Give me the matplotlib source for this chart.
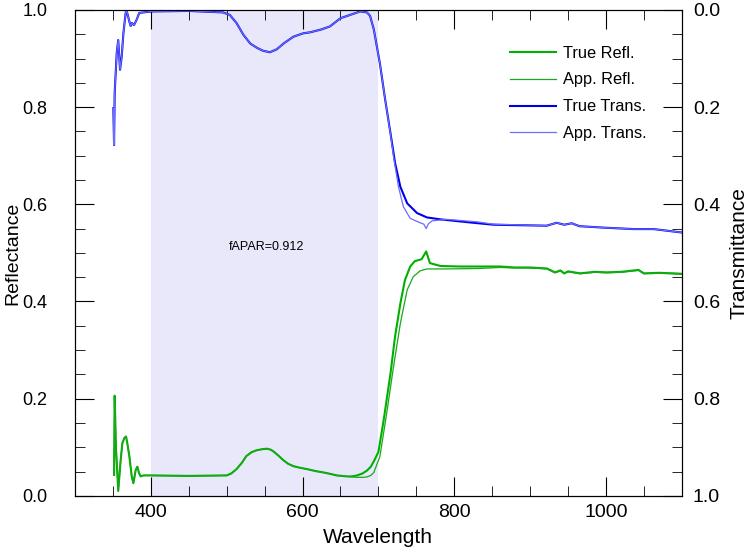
import matplotlib
matplotlib.use('Agg')
import matplotlib.pyplot as plt
import numpy as np
from matplotlib.ticker import MultipleLocator

plt.rcParams['font.family'] = ['Liberation Sans', 'DejaVu Sans']

# ---------------------------------------------------------------- #
#              values               #
# ---------------------------------------------------------------- #

# true reflectance
wl_refl = [351.5, 352.3, 354, 357, 360, 362.4, 365, 367.3, 369, 371.7, 374.8, 377,
           380, 382.2, 384.4, 386.6, 390, 400, 450, 500, 506, 513, 520, 526, 533, 540,
           547, 553, 558, 562, 568, 575, 581, 588, 596, 606, 617, 628, 637, 645, 652,
           658, 665, 672, 679, 685, 690, 694, 700, 707, 716, 722, 729,
           735, 742, 748, 757, 763, 768, 782, 808, 835, 860, 880, 900, 922, 933,
           940, 945, 950, 966, 985, 1001, 1020, 1043, 1050, 1070, 1089, 1100]
refl_true = [0.043, 0.206, 0.10, 0.010, 0.07, 0.108, 0.119, 0.122, 0.108, 0.081, 0.040, 0.026,
             0.053, 0.060, 0.047, 0.040, 0.042, 0.042, 0.041, 0.042, 0.046, 0.055, 0.068, 0.082, 0.090, 0.094,
             0.096, 0.097, 0.095, 0.091, 0.083, 0.073, 0.066, 0.061, 0.058, 0.055, 0.051, 0.048, 0.045, 0.042, 0.041,
             0.040, 0.040, 0.042, 0.046, 0.052, 0.060, 0.071, 0.090, 0.156, 0.252, 0.328, 0.396,
             0.444, 0.472, 0.483, 0.487, 0.503, 0.479, 0.473, 0.472, 0.472, 0.472, 0.470, 0.470, 0.468, 0.460,
             0.464, 0.458, 0.462, 0.458, 0.461, 0.460, 0.461, 0.465, 0.458, 0.459, 0.458, 0.457]

# apparent reflectance (differs from true only around the red edge)
wl_refl_app = [351.5, 352.3, 354, 357, 360, 362.4, 365, 367.3, 369, 371.7, 374.8, 377,
               380, 382.2, 384.4, 386.6, 390, 400, 450, 500, 506, 513, 520, 526, 533, 540,
               547, 553, 558, 562, 568, 575, 581, 588, 596, 606, 617, 628, 637, 645, 652,
               658, 665, 672, 679, 685, 690, 694, 702, 711, 720, 729, 738,
               746, 755, 764, 790, 834, 860, 880, 900, 922, 933, 940, 945, 950, 966,
               985, 1001, 1020, 1043, 1050, 1070, 1089, 1100]
refl_app = [0.043, 0.206, 0.10, 0.010, 0.07, 0.108, 0.119, 0.122, 0.108, 0.081, 0.040, 0.026,
            0.053, 0.060, 0.047, 0.040, 0.042, 0.042, 0.041, 0.042, 0.046, 0.055, 0.068, 0.082, 0.090, 0.094,
            0.096, 0.097, 0.095, 0.091, 0.083, 0.073, 0.066, 0.061, 0.058, 0.055, 0.051, 0.048, 0.045, 0.042, 0.041,
            0.040, 0.039, 0.038, 0.038, 0.039, 0.042, 0.048, 0.081, 0.170, 0.266, 0.355, 0.424,
            0.451, 0.463, 0.467, 0.467, 0.468, 0.470, 0.469, 0.469, 0.467, 0.459, 0.463, 0.457, 0.461, 0.457,
            0.460, 0.459, 0.460, 0.464, 0.457, 0.458, 0.457, 0.456]

# true transmittance
wl_trans = [350.6, 351.5, 352.3, 355, 357, 359.4, 361.6, 363.8, 366, 367.3, 369, 371.7,
            373.5, 375, 377.8, 381, 384.8, 401, 450, 495, 504, 513, 522, 531, 540, 548,
            557, 566, 575, 588, 601, 610, 625, 636, 650, 663, 676, 685, 689, 694,
            702, 709, 716, 722, 729, 738, 751, 764, 782, 825, 852, 922, 935, 945,
            955, 965, 997, 1037, 1063, 1100]
trans_true = [0.202, 0.278, 0.171, 0.089, 0.062, 0.123, 0.096, 0.048, 0.017, 0.0, 0.007, 0.024,
              0.033, 0.027, 0.031, 0.021, 0.006, 0.003, 0.002, 0.005, 0.010, 0.027, 0.051, 0.069, 0.078, 0.084,
              0.087, 0.081, 0.069, 0.055, 0.048, 0.046, 0.040, 0.034, 0.017, 0.010, 0.003, 0.005, 0.012, 0.040,
              0.11, 0.185, 0.254, 0.315, 0.364, 0.398, 0.418, 0.427, 0.431, 0.438, 0.442, 0.444, 0.438, 0.442,
              0.439, 0.445, 0.448, 0.451, 0.451, 0.458]

# apparent transmittance
wl_trans_app = [350.6, 351.5, 352.3, 355, 357, 359.4, 361.6, 363.8, 366, 367.3, 369, 371.7,
                373.5, 375, 377.8, 381, 384.8, 401, 450, 495, 504, 513, 522, 531, 540, 548,
                557, 566, 575, 588, 601, 610, 625, 636, 650, 663, 676, 685, 689, 694,
                702, 709, 716, 720, 726.5, 733, 742, 755, 760, 763, 766, 771, 790, 830,
                852, 922, 935, 945, 955, 965, 997, 1037, 1063, 1100]
trans_app = [0.202, 0.278, 0.171, 0.089, 0.062, 0.123, 0.096, 0.048, 0.017, 0.0, 0.007, 0.024,
             0.033, 0.027, 0.031, 0.021, 0.006, 0.003, 0.002, 0.005, 0.010, 0.027, 0.051, 0.069, 0.078, 0.084,
             0.087, 0.081, 0.069, 0.055, 0.048, 0.046, 0.040, 0.034, 0.017, 0.010, 0.003, 0.005, 0.012, 0.040,
             0.11, 0.185, 0.256, 0.302, 0.364, 0.405, 0.429, 0.438, 0.441, 0.450, 0.440, 0.434, 0.431, 0.436,
             0.441, 0.444, 0.438, 0.442, 0.439, 0.445, 0.448, 0.451, 0.451, 0.458]

par_band = [400, 700]
fapar = 0.912

# ---------------------------------------------------------------- #
#                              plot                                #
# ---------------------------------------------------------------- #

fig = plt.figure(figsize=(7.5, 5.54), dpi=100)
ax = fig.add_axes([0.1, 0.105, 0.809, 0.877])

ax.axvspan(par_band[0], par_band[1], color='#e8e8fa', lw=0, zorder=0)

l1, = ax.plot(wl_refl, refl_true, color='#00b000', lw=1.5, label='True Refl.')
l2, = ax.plot(wl_refl_app, refl_app, color='#18a818', lw=0.9, label='App. Refl.')

ax2 = ax.twinx()
l3, = ax2.plot(wl_trans, trans_true, color='#0000e8', lw=1.5, label='True Trans.')
l4, = ax2.plot(wl_trans_app, trans_app, color='#6c6cff', lw=0.9, label='App. Trans.')

ax.set_xlim(300, 1100)
ax.set_ylim(0, 1)
ax2.set_ylim(1, 0)

ax.xaxis.set_major_locator(MultipleLocator(200))
ax.xaxis.set_minor_locator(MultipleLocator(50))
ax.yaxis.set_major_locator(MultipleLocator(0.2))
ax.yaxis.set_minor_locator(MultipleLocator(0.05))
ax2.yaxis.set_major_locator(MultipleLocator(0.2))
ax2.yaxis.set_minor_locator(MultipleLocator(0.05))
ax.yaxis.set_major_formatter(plt.FormatStrFormatter('%.1f'))
ax2.yaxis.set_major_formatter(plt.FormatStrFormatter('%.1f'))

ax.tick_params(axis='x', which='both', direction='in', top=True, labelsize=14, pad=6)
ax.tick_params(axis='x', which='major', length=14)
ax.tick_params(axis='x', which='minor', length=7)
ax.tick_params(axis='y', which='both', direction='in', right=False, labelsize=13, pad=20)
ax.tick_params(axis='y', which='major', length=14)
ax.tick_params(axis='y', which='minor', length=7)
ax2.tick_params(axis='y', which='both', direction='in', labelsize=14, pad=8)
ax2.tick_params(axis='y', which='major', length=14)
ax2.tick_params(axis='y', which='minor', length=7)

ax.set_xlabel('Wavelength', fontsize=15, va='center')
ax.xaxis.set_label_coords(0.5, -0.085)
ax.set_ylabel('Reflectance', fontsize=14, va='center')
ax.yaxis.set_label_coords(-0.103, 0.5)
ax2.set_ylabel('Transmittance', fontsize=15, va='center')
ax2.yaxis.set_label_coords(1.095, 0.5)

ax.text(552, 0.512, 'fAPAR=%.3f' % fapar, fontsize=9, ha='center', va='center')

ax2.legend([l1, l2, l3, l4], [l.get_label() for l in (l1, l2, l3, l4)],
           loc='upper left', bbox_to_anchor=(0.706, 0.94), frameon=False,
           fontsize=11.8, handlelength=2.8, handletextpad=0.45, labelspacing=0.72,
           borderaxespad=0)

fig.savefig('out.png', dpi=100)
